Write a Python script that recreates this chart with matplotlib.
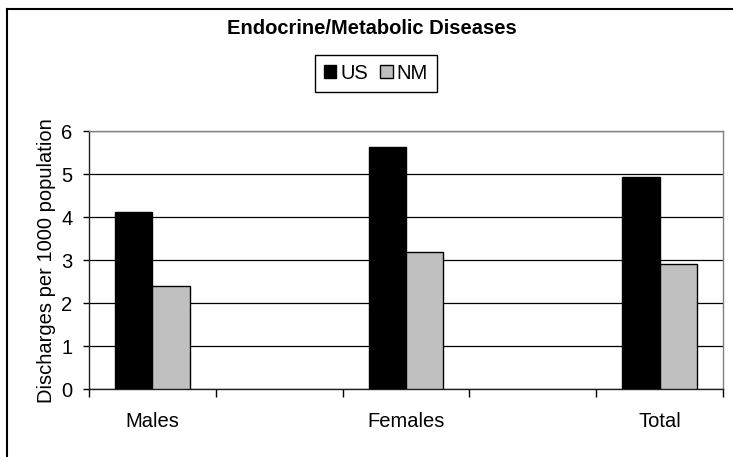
import matplotlib
matplotlib.use("Agg")
import matplotlib.pyplot as plt
import numpy as np
from matplotlib.lines import Line2D
from matplotlib.patches import Patch

# datos
categorias = ["Males", "", "Females", "", "Total"]
us = [4.13, np.nan, 5.63, np.nan, 4.93]
nm = [2.39, np.nan, 3.20, np.nan, 2.90]
series = ["US", "NM"]

plt.rcParams['font.family'] = ['Liberation Sans', 'DejaVu Sans']
tam = 14.5

fig = plt.figure(figsize=(7.33, 4.57), dpi=100)
ax = fig.add_axes([0.1214, 0.148, 0.865, 0.5653])

x = np.arange(len(categorias))
ancho = 0.295
ax.bar(x - ancho/2, us, width=ancho, color='black', edgecolor='black', linewidth=1, zorder=3)
ax.bar(x + ancho/2, nm, width=ancho, color='#C0C0C0', edgecolor='black', linewidth=1, zorder=3)

ax.set_xlim(-0.5, len(categorias) - 0.5)
ax.set_ylim(0, 6)
ax.set_yticks(range(0, 7))
ax.yaxis.grid(True, color='black', linewidth=0.9, zorder=0)
ax.set_axisbelow(True)

ax.set_xticks(x)
ax.set_xticklabels(categorias, fontsize=tam)
ax.set_xticks(np.arange(-0.5, len(categorias)), minor=True)
ax.tick_params(axis='x', which='major', length=0, pad=16)
ax.tick_params(axis='x', which='minor', length=6, width=1, color='black')
ax.tick_params(axis='y', length=4, width=1, labelsize=tam, pad=8)

for s in ['top', 'right']:
    ax.spines[s].set_color('#808080')
    ax.spines[s].set_linewidth(1)
for s in ['left', 'bottom']:
    ax.spines[s].set_color('#202020')
    ax.spines[s].set_linewidth(1)

ax.set_ylabel("Discharges per 1000 population", fontsize=tam, labelpad=4)

fig.text(0.507, 0.938, "Endocrine/Metabolic Diseases", fontsize=tam,
         fontweight='bold', ha='center', va='center')

manejadores = [Patch(facecolor='black', edgecolor='black', label=series[0]),
               Patch(facecolor='#C0C0C0', edgecolor='black', label=series[1])]
leg = fig.legend(handles=manejadores, loc='center', bbox_to_anchor=(0.513, 0.840),
                 ncol=2, fontsize=tam, frameon=True, fancybox=False,
                 edgecolor='black', framealpha=1, handlelength=0.62,
                 handleheight=0.62, handletextpad=0.2, columnspacing=0.6,
                 borderpad=0.45, borderaxespad=0)
leg.get_frame().set_linewidth(1)

# borde exterior (solo izquierda y arriba visibles)
fig.add_artist(Line2D([7/733, 7/733], [0, 1 - 9/457], transform=fig.transFigure,
                      color='black', linewidth=1.5))
fig.add_artist(Line2D([7/733, 1], [1 - 9/457, 1 - 9/457], transform=fig.transFigure,
                      color='black', linewidth=1.5))

fig.savefig("out.png", dpi=100)
